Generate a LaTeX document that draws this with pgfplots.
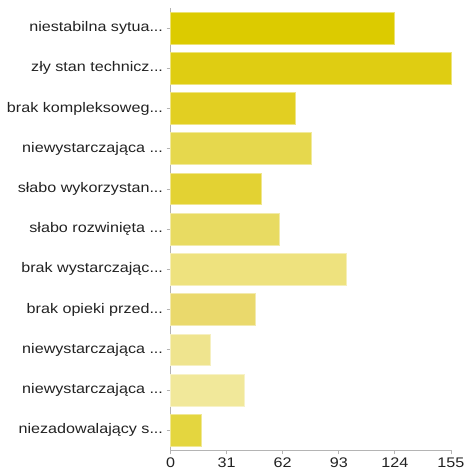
\documentclass[border=0pt]{standalone}
\usepackage{fontspec}
\setmainfont{Liberation Sans}[FakeStretch=1.16]
\usepackage{pgfplots}
\pgfplotsset{compat=1.18}

\definecolor{ca}{HTML}{DCCB00}
\definecolor{cb}{HTML}{DFCD12}
\definecolor{cc}{HTML}{E2CF22}
\definecolor{cd}{HTML}{E6D84D}
\definecolor{ce}{HTML}{E3D233}
\definecolor{cf}{HTML}{E8DB62}
\definecolor{cg}{HTML}{EEE27E}
\definecolor{ch}{HTML}{EAD96C}
\definecolor{ci}{HTML}{EFE48E}
\definecolor{cj}{HTML}{F1E89A}
\definecolor{ck}{HTML}{E4D63F}
\definecolor{axisgray}{HTML}{B4B4B4}
\definecolor{txt}{HTML}{222222}
\newcommand\ddd{...}

\begin{document}
\begin{tikzpicture}[x=1bp,y=1bp]
  \path (0,0) rectangle (467,471);
  \begin{axis}[
      at={(171bp,19.3bp)}, anchor=south west,
      scale only axis, width=281.3bp, height=443.7bp,
      xmin=0, xmax=155, ymin=-0.5, ymax=10.5,
      xbar, bar width=0.79, bar shift=0pt,
      axis x line*=bottom, axis y line*=left,
      axis line style={axisgray, line width=1.2bp, -},
      xtick={0,31,62,93,124,155},
      ytick={0,1,2,3,4,5,6,7,8,9,10},
      yticklabels={{niezadowalający s\ddd},{niewystarczająca \ddd},{niewystarczająca \ddd},{brak opieki przed\ddd},{brak wystarczając\ddd},{słabo rozwinięta \ddd},{słabo wykorzystan\ddd},{niewystarczająca \ddd},{brak kompleksoweg\ddd},{zły stan technicz\ddd},{niestabilna sytua\ddd}},
      tick align=outside, major tick length=4bp,
      tick style={axisgray, line width=0.8bp},
      /pgf/number format/assume math mode=true,
      ticklabel style={font=\fontsize{14}{16}\selectfont, text=txt},
      clip=false,
    ]
    \addplot[fill=ca, draw=ca!55!white, line width=0.8bp] coordinates {(124,10)};
    \addplot[fill=cb, draw=cb!55!white, line width=0.8bp] coordinates {(155,9)};
    \addplot[fill=cc, draw=cc!55!white, line width=0.8bp] coordinates {(69,8)};
    \addplot[fill=cd, draw=cd!55!white, line width=0.8bp] coordinates {(78,7)};
    \addplot[fill=ce, draw=ce!55!white, line width=0.8bp] coordinates {(50,6)};
    \addplot[fill=cf, draw=cf!55!white, line width=0.8bp] coordinates {(60,5)};
    \addplot[fill=cg, draw=cg!55!white, line width=0.8bp] coordinates {(97,4)};
    \addplot[fill=ch, draw=ch!55!white, line width=0.8bp] coordinates {(47,3)};
    \addplot[fill=ci, draw=ci!55!white, line width=0.8bp] coordinates {(22,2)};
    \addplot[fill=cj, draw=cj!55!white, line width=0.8bp] coordinates {(41,1)};
    \addplot[fill=ck, draw=ck!55!white, line width=0.8bp] coordinates {(17,0)};
  \end{axis}
\end{tikzpicture}
\end{document}
